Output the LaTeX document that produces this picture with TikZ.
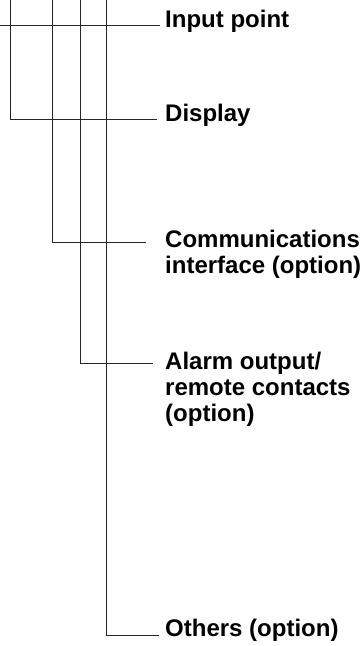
\documentclass[tikz,border=0pt]{standalone}
\usepackage{fontspec}
\setmainfont{Liberation Sans}
\begin{document}
\begin{tikzpicture}[x=1pt,y=-1pt,
  lbl/.style={anchor=base west,inner sep=0pt,align=left,font=\bfseries\fontsize{24}{26}\selectfont},
  wire/.style={draw=black!85,line width=1pt}]
\useasboundingbox (0,0) rectangle (362,646);
% labels (anchor at baseline of last line)
\node[lbl] (inp) at (165,27) {Input point};
\node[lbl] (dis) at (165,121) {Display};
\node[lbl] (com) at (165,273) {Communications\\interface (option)};
\node[lbl] (alm) at (165,421) {Alarm output/\\remote contacts\\(option)};
\node[lbl] (oth) at (165,636) {Others (option)};
% line ends
\coordinate (i0) at (0,25);   \coordinate (i1) at (160,25);
\coordinate (t1) at (10,0);   \coordinate (d1) at (157,119);
\coordinate (t2) at (52,0);   \coordinate (c1) at (146,242);
\coordinate (t3) at (80,0);   \coordinate (a1) at (153,363);
\coordinate (t4) at (106,0);  \coordinate (o1) at (159,635);
\draw[wire] (i0) -- (i1);
\draw[wire] (t1) |- (d1);
\draw[wire] (t2) |- (c1);
\draw[wire] (t3) |- (a1);
\draw[wire] (t4) |- (o1);
\end{tikzpicture}
\end{document}
